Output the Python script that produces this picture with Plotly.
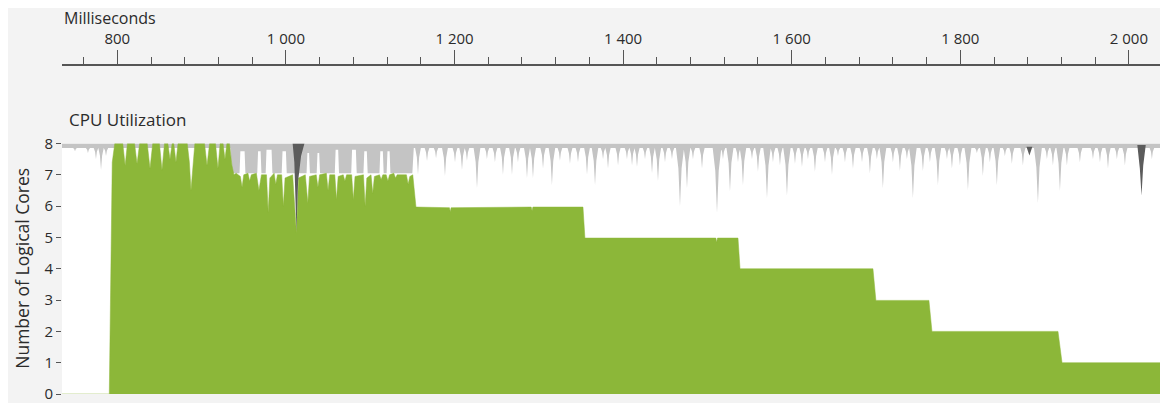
import plotly.graph_objects as go

# ---------------- data ----------------
x_range_ms = [734.4, 2046.4]
top_tick_step_ms = 200
minor_tick_step_ms = 40
y_ticks = [0, 1, 2, 3, 4, 5, 6, 7, 8]

# green: cores used by the process (top edge of the green area)
green_ms = [734, 790.5, 794, 797,
            806.5, 809.3, 812, 820.5, 823.4, 826.5, 835.5, 838.8, 842, 850, 853, 856,
            860, 862.5, 865, 867, 869.6, 872, 883, 885.5, 887.4, 889.5, 892,
            903.5, 906.4, 909.5, 916.5, 919.4, 922, 925.5, 927.7, 930, 933, 936, 938.4,
            941, 946, 948, 950, 955, 957, 959, 965, 968, 971, 977, 979, 981, 986, 988, 990,
            995, 997, 999, 1008, 1012.5, 1015, 1023, 1026, 1028, 1036, 1038, 1040, 1048,
            1050, 1052, 1058, 1060, 1062, 1068, 1070, 1072, 1078, 1080, 1082, 1092, 1094,
            1096, 1101, 1103, 1105, 1111, 1113, 1115, 1119, 1121, 1123, 1128, 1130, 1132,
            1143, 1145, 1147, 1150.5,
            1154.3, 1194, 1195, 1196, 1291, 1292, 1293, 1352.4,
            1354.7, 1510, 1511, 1512, 1536.3,
            1538.7, 1696.4, 1699.9, 1762.8, 1766.4, 1915.9, 1920.7, 2046.4]
green_cores = [0, 0, 7.4, 8.0,
               8.0, 7.3, 8.0, 8.0, 7.35, 8.0, 8.0, 7.2, 8.0, 8.0, 7.15, 8.0,
               8.0, 7.5, 8.0, 8.0, 7.4, 8.0, 8.0, 7.4, 6.5, 7.3, 8.0,
               8.0, 7.3, 8.0, 8.0, 7.2, 8.0, 8.0, 7.5, 8.0, 8.0, 7.3, 7.0,
               7.05, 6.95, 6.6, 7.0, 7.05, 6.8, 7.0, 7.05, 6.5, 7.0, 7.0, 5.8, 6.9, 7.05, 6.7, 7.0,
               7.0, 6.0, 6.9, 7.0, 5.15, 6.9, 7.0, 6.1, 6.95, 7.0, 6.6, 7.0, 7.05,
               6.5, 7.0, 7.0, 6.2, 6.95, 7.0, 6.8, 7.0, 7.0, 6.2, 6.95, 7.0, 6.0,
               6.9, 7.0, 6.4, 6.95, 7.0, 6.85, 7.0, 7.0, 6.8, 7.0, 7.05, 6.9, 7.0,
               7.0, 6.7, 6.95, 7.0,
               5.97, 5.95, 5.82, 5.95, 5.97, 5.85, 5.97, 5.97,
               4.98, 4.98, 4.85, 4.98, 4.98,
               4.0, 4.0, 2.99, 2.99, 2.0, 2.0, 1.0, 1.0]

# gray: other processes, thin band hanging from the top
other_band_low = 7.86
# broad gray block while the process runs on ~7 cores (lower edge)
block_ms = [934, 936.5, 945, 946, 951, 952, 966, 967, 970, 971, 976, 977, 983, 984, 995, 996,
            1000, 1001, 1024.5, 1025.5, 1027.5, 1028.5, 1036.5, 1037.5, 1039.5, 1040.5, 1058,
            1059, 1062, 1063, 1077.5, 1078.5, 1083, 1084, 1092, 1093, 1096, 1097, 1111, 1112,
            1115, 1116, 1119.5, 1120.5, 1123, 1124, 1150, 1152]
block_low = [7.86, 7.05, 7.05, 7.75, 7.75, 7.05, 7.05, 7.75, 7.75, 7.05, 7.05, 7.8, 7.8, 7.05, 7.05, 7.75,
             7.75, 7.05, 7.05, 7.7, 7.7, 7.05, 7.05, 7.7, 7.7, 7.05, 7.05,
             7.8, 7.8, 7.05, 7.05, 7.8, 7.8, 7.05, 7.05, 7.75, 7.75, 7.05, 7.05, 7.75,
             7.75, 7.05, 7.05, 7.75, 7.75, 7.05, 7.05, 7.86]
# gray spikes: position (ms) and lowest value reached (cores)
spike_ms = [749.8, 765.2, 774.7, 780.7, 786.6,
            1156.7, 1167.4, 1178.1, 1188.7, 1200.6, 1208.9, 1214.8, 1226.7, 1238.5, 1248.0,
            1257.5, 1268.2, 1275.3, 1286.0, 1293.1, 1305.0, 1315.6, 1325.1, 1337.0, 1346.5,
            1357.2, 1366.7, 1376.2, 1382.1, 1394.0, 1404.6, 1410.6, 1416.5, 1426.0, 1434.3,
            1441.4, 1449.7, 1458.0, 1467.5, 1475.8, 1482.9, 1493.6, 1511.4, 1518.5, 1526.8,
            1536.3, 1542.2, 1552.9, 1560.0, 1570.7, 1577.8, 1586.1, 1594.4, 1603.9, 1612.2,
            1619.3, 1627.6, 1639.5, 1647.8, 1654.9, 1663.2, 1672.7, 1683.4, 1692.8, 1701.1,
            1708.2, 1720.1, 1728.4, 1736.7, 1743.8, 1755.7, 1764.0, 1773.5, 1784.2, 1790.1,
            1799.6, 1809.1, 1819.7, 1826.8, 1835.1, 1843.4, 1852.9, 1861.2, 1874.3, 1892.1,
            1902.8, 1909.9, 1918.2, 1926.5, 1941.9, 1957.4, 1965.7, 1975.2, 1985.8, 1995.3,
            2027.3, 2042.8]
spike_low = [7.75, 7.7, 7.5, 7.15, 7.6,
             7.0, 7.44, 7.53, 6.96, 7.4, 7.15, 7.45, 6.57, 7.5, 7.4,
             7.0, 7.0, 7.4, 6.9, 6.9, 7.2, 6.67, 7.45, 7.35, 7.4,
             7.0, 6.67, 7.5, 7.2, 7.3, 7.5, 7.3, 7.25, 7.5, 7.05,
             6.8, 7.4, 7.5, 6.0, 6.57, 7.5, 7.2, 5.78, 7.5, 6.47,
             7.4, 6.67, 7.5, 7.1, 6.25, 7.4, 7.3, 6.33, 7.35, 7.25,
             7.5, 7.1, 7.4, 7.0, 7.6, 7.4, 7.2, 7.4, 7.05, 7.5,
             6.57, 7.4, 7.12, 7.5, 6.25, 7.12, 7.4, 6.67, 7.5, 7.2,
             7.3, 6.51, 7.7, 6.96, 7.4, 6.67, 7.6, 7.35, 7.3, 6.1,
             7.5, 7.3, 6.48, 7.3, 7.4, 7.5, 7.4, 7.2, 7.5, 7.3,
             7.5, 6.8]

# dark gray: system process (polygons hanging from the top, None separates them)
system_ms = [1008, 1010, 1012.5, 1014.5, 1018, 1022, None,
             1878.5, 1882, 1885.5, None,
             2010, 2013, 2015, 2017, 2020]
system_top = [8, 7.4, 5.2, 6.8, 7.6, 8, None,
              7.9, 7.62, 7.9, None,
              7.95, 7.2, 6.33, 7.3, 7.95]

# ---------------- styling ----------------
FONT = "Open Sans"
TXT = "#2b2b2b"
AX = "#555555"
GREEN = "#8cb739"
GRAY = "#c4c4c4"
DARK = "#5c5c5c"
PANEL = "#f3f3f3"

# the page body adds an 8 px margin at top/left, so the figure is 8 px smaller
W, H = 1160, 395
ML, MB = 54, 9
PH = H - MB          # paper height in px (top margin is 0)
PW = W - ML
PLOT_TOP_PX = 135.5
AXIS_LINE_PX = 57

# ---------------- build gray polygons ----------------
gx, gy = [], []
gx += [x_range_ms[0] - 5, x_range_ms[1] + 5, x_range_ms[1] + 5, x_range_ms[0] - 5, None]
gy += [other_band_low, other_band_low, 8, 8, None]
gx += block_ms + [block_ms[-1], block_ms[0], None]
gy += block_low + [8, 8, None]
for t, low in zip(spike_ms, spike_low):
    d = other_band_low - low
    hw = 2.2 + 1.4 * d          # icicle half-width at its root (ms)
    gx += [t - hw, t - hw, t - 0.4 * hw, t - 0.15 * hw, t,
           t + 0.15 * hw, t + 0.4 * hw, t + hw, t + hw, None]
    gy += [8, other_band_low, other_band_low - 0.35 * d, other_band_low - 0.75 * d, low,
           other_band_low - 0.75 * d, other_band_low - 0.35 * d, other_band_low, 8, None]

fig = go.Figure()
fig.add_trace(go.Scatter(x=gx, y=gy, mode="lines", fill="toself", fillcolor=GRAY,
                         line=dict(width=0, color=GRAY), hoverinfo="skip", showlegend=False))
fig.add_trace(go.Scatter(x=green_ms, y=green_cores, mode="lines", fill="tozeroy", fillcolor=GREEN,
                         line=dict(width=0.5, color=GREEN), hoverinfo="skip", showlegend=False))
fig.add_trace(go.Scatter(x=system_ms, y=system_top, mode="lines", fill="toself", fillcolor=DARK,
                         line=dict(width=0, color=DARK), hoverinfo="skip", showlegend=False))
fig.add_trace(go.Scatter(x=[None], y=[None], xaxis="x2", yaxis="y", showlegend=False))

fig.update_layout(
    width=W, height=H,
    margin=dict(l=ML, r=0, t=0, b=MB, pad=0, autoexpand=False),
    paper_bgcolor=PANEL, plot_bgcolor="white",
    separators=". ",
    font=dict(family=FONT, color=TXT, size=14),
    xaxis=dict(range=x_range_ms, showticklabels=False, ticks="", showgrid=False,
               zeroline=False, showline=False, automargin=False),
    xaxis2=dict(overlaying="x", anchor="free", position=1 - AXIS_LINE_PX / PH, side="top",
                range=x_range_ms, tickmode="linear", tick0=0, dtick=top_tick_step_ms,
                tickformat=",d", ticks="outside", ticklen=14, tickwidth=1, tickcolor=AX,
                showline=True, linecolor=AX, linewidth=1.5, showgrid=False, zeroline=False,
                automargin=False,
                tickfont=dict(family=FONT, size=15, color=TXT),
                minor=dict(dtick=minor_tick_step_ms, tick0=0, ticks="outside", ticklen=7,
                           tickcolor=AX, tickwidth=1, showgrid=False)),
    yaxis=dict(domain=[0, 1 - PLOT_TOP_PX / PH], range=[0, 8], tickmode="array",
               tickvals=y_ticks, ticks="outside", ticklen=5, tickwidth=1, tickcolor=AX,
               showgrid=False, zeroline=False, showline=False, automargin=False,
               ticklabeloverflow="allow",
               tickfont=dict(family=FONT, size=15, color=TXT)),
    annotations=[
        dict(text="Milliseconds", xref="paper", yref="paper", x=(54 - ML) / PW, y=1 - 10.5 / PH,
             xanchor="left", yanchor="middle", showarrow=False,
             font=dict(family=FONT, size=16, color=TXT)),
        dict(text="CPU Utilization", xref="paper", yref="paper", x=(59 - ML) / PW,
             y=1 - 112 / PH, xanchor="left", yanchor="middle", showarrow=False,
             font=dict(family=FONT, size=17, color=TXT)),
        dict(text="Number of Logical Cores", xref="paper", yref="paper", x=(14 - ML) / PW,
             y=(1 - PLOT_TOP_PX / PH) / 2, xanchor="center", yanchor="middle", textangle=-90,
             showarrow=False, font=dict(family=FONT, size=17.5, color=TXT)),
    ],
)

fig.write_html("out.html")
